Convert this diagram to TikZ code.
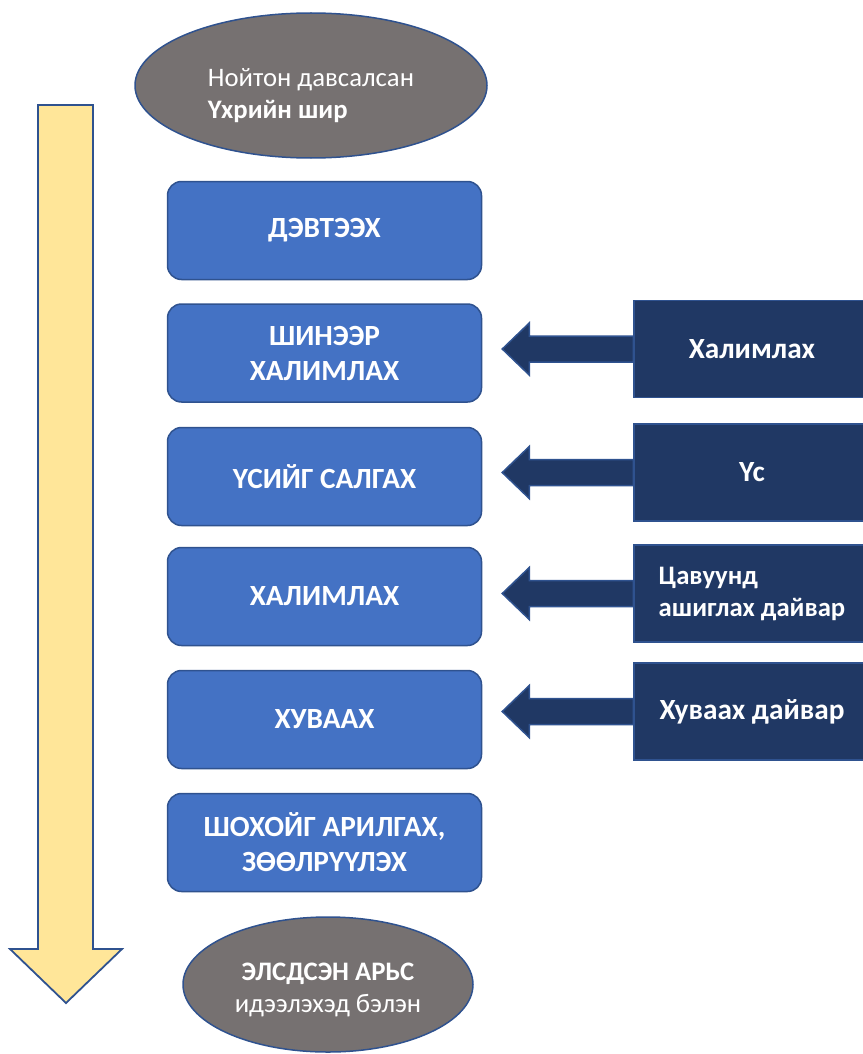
\documentclass[tikz,border=0pt]{standalone}
\usepackage{fontspec}
\setmainfont{Carlito}
\usetikzlibrary{shapes.geometric}
\definecolor{stepblue}{HTML}{4472C4}
\definecolor{edgeblue}{HTML}{2F528F}
\definecolor{navyfill}{HTML}{203864}
\definecolor{hidegray}{HTML}{767171}
\definecolor{flowyellow}{HTML}{FFE699}
\begin{document}
\fontsize{26.7pt}{32pt}\selectfont
\begin{tikzpicture}[x=1pt,y=-1pt,
  stepbox/.style={rectangle, rounded corners=14pt, draw=edgeblue, line width=1.5pt, fill=stepblue, text=white, font=\fontsize{29.3pt}{35pt}\selectfont\bfseries, align=center, minimum width=314pt, minimum height=98pt, inner sep=0pt},
  inputbox/.style={rectangle, draw=edgeblue, line width=1.5pt, fill=navyfill, text=white, font=\fontsize{29.3pt}{35pt}\selectfont\bfseries, minimum width=236pt, minimum height=97pt, inner sep=0pt},
  hidenode/.style={ellipse, draw=edgeblue, line width=1.5pt, fill=hidegray, text=white, inner sep=0pt, text depth=0pt},
  inarrow/.style={draw=edgeblue, line width=1.5pt, fill=navyfill, line join=miter}]
\useasboundingbox (0,0) rectangle (862,1054);
% flow arrow on the left
\draw[draw=edgeblue, line width=1.8pt, fill=flowyellow] (38,105) -- (93,105) -- (93,949) -- (122,949) -- (66,1003) -- (10,949) -- (38,949) -- cycle;
% start and end
\node[hidenode, minimum width=352pt, minimum height=145pt, align=left, text height=65pt] (raw) at (311,85.5) {Нойтон давсалсан\\\textbf{Үхрийн шир}};
\node[hidenode, minimum width=290pt, minimum height=135pt, align=center, text height=55pt] (ready) at (328,984.5) {\textbf{ЭЛСДСЭН АРЬС}\\идээлэхэд бэлэн};
% steps
\node[stepbox] (s1) at (324.5,230.5) {ДЭВТЭЭХ};
\node[stepbox] (s2) at (324.5,353) {ШИНЭЭР\\ХАЛИМЛАХ};
\node[stepbox] (s3) at (324.5,476.5) {ҮСИЙГ САЛГАХ};
\node[stepbox] (s4) at (324.5,596.5) {ХАЛИМЛАХ};
\node[stepbox] (s5) at (324.5,719.5) {ХУВААХ};
\node[stepbox] (s6) at (324.5,842.5) {ШОХОЙГ АРИЛГАХ,\\ЗӨӨЛРҮҮЛЭХ};
% by-products
\node[inputbox] (k1) at (752,349) {Халимлах};
\node[inputbox] (k2) at (752,472.5) {Үс};
\node[inputbox, align=left, font=\fontsize{26.7pt}{32pt}\selectfont\bfseries] (k3) at (752,593.5) {Цавуунд\\ашиглах дайвар};
\node[inputbox] (k4) at (752,711.5) {Хуваах дайвар};
\draw[inarrow] ([yshift=13pt]k1.west) -- ++(-104,0) -- ++(0,-13) -- ++(-27,26) -- ++(27,26) -- ++(0,-13) -- ([yshift=-13pt]k1.west) -- cycle;
\draw[inarrow] ([yshift=13pt]k2.west) -- ++(-104,0) -- ++(0,-13) -- ++(-27,26) -- ++(27,26) -- ++(0,-13) -- ([yshift=-13pt]k2.west) -- cycle;
\draw[inarrow] ([yshift=13pt]k3.west) -- ++(-104,0) -- ++(0,-13) -- ++(-27,26) -- ++(27,26) -- ++(0,-13) -- ([yshift=-13pt]k3.west) -- cycle;
\draw[inarrow] ([yshift=13pt]k4.west) -- ++(-104,0) -- ++(0,-13) -- ++(-27,26) -- ++(27,26) -- ++(0,-13) -- ([yshift=-13pt]k4.west) -- cycle;
\end{tikzpicture}
\end{document}
